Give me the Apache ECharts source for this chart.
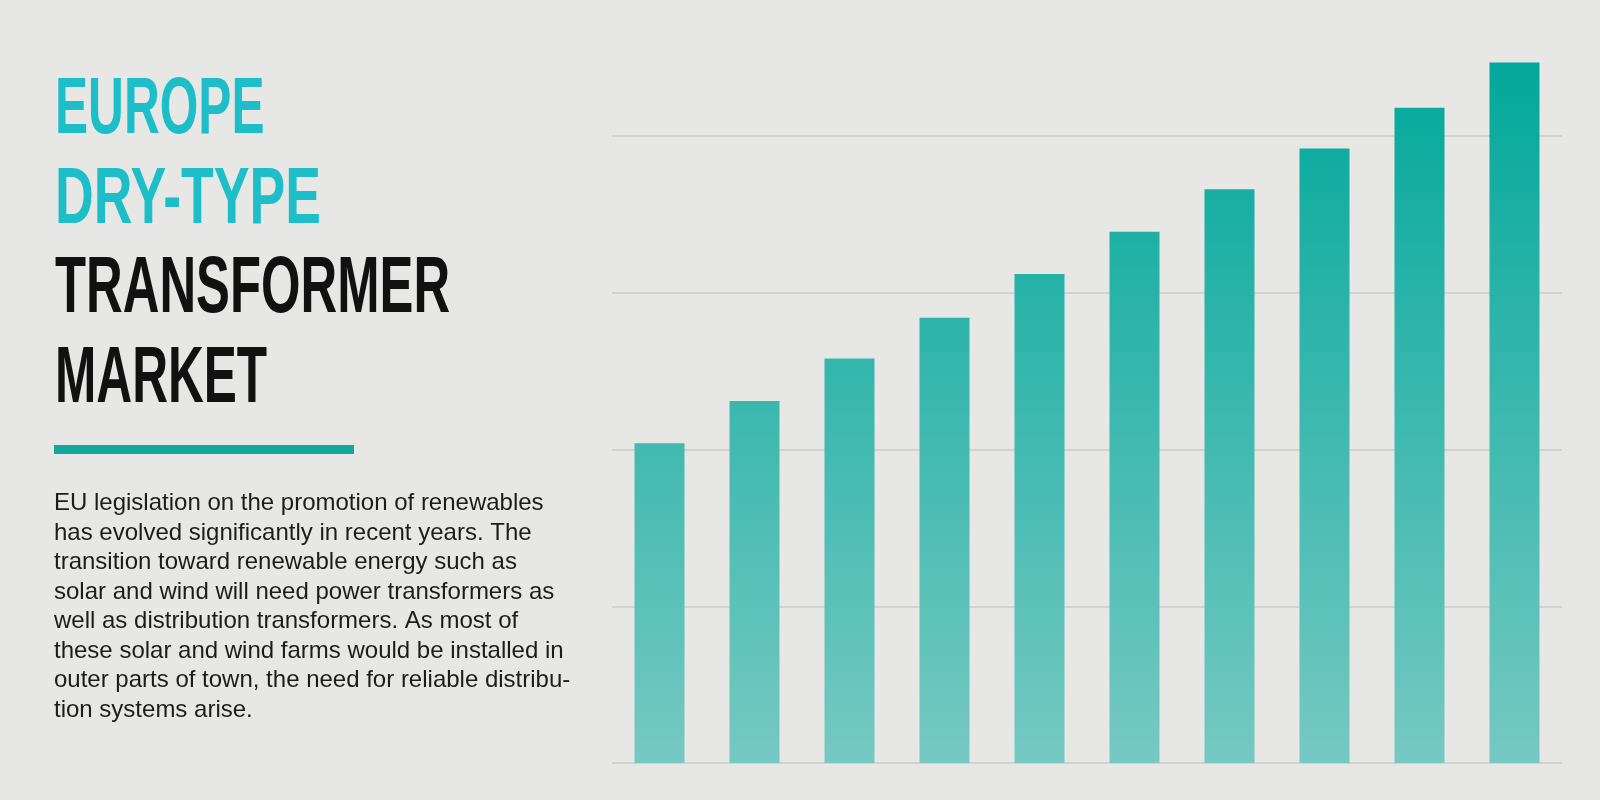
<!DOCTYPE html>
<html>
<head>
<meta charset="utf-8">
<title>Europe Dry-Type Transformer Market</title>
<script src="https://cdn.jsdelivr.net/npm/echarts@6/dist/echarts.min.js"></script>
<style>
  html, body { margin: 0; padding: 0; background: #e7e7e6; }
  #main { width: 1600px; height: 800px; }
</style>
</head>
<body>
<div id="main"></div>
<script>
// 数据
var categories = ["1", "2", "3", "4", "5", "6", "7", "8", "9", "10"];
var marketValues = [2.04, 2.31, 2.58, 2.84, 3.12, 3.39, 3.66, 3.92, 4.18, 4.47];
var yTicks = [0, 1, 2, 3, 4];

var titleLines = [
  { text: "EUROPE", color: "#1ebec9", scaleX: 0.62 },
  { text: "DRY-TYPE", color: "#1ebec9", scaleX: 0.67 },
  { text: "TRANSFORMER", color: "#111111", scaleX: 0.635 },
  { text: "MARKET", color: "#111111", scaleX: 0.62 }
];
var bodyText = [
  "EU legislation on the promotion of renewables",
  "has evolved significantly in recent years. The",
  "transition toward renewable energy such as",
  "solar and wind will need power transformers as",
  "well as distribution transformers. As most of",
  "these solar and wind farms would be installed in",
  "outer parts of town, the need for reliable distribu-",
  "tion systems arise."
];

var myChart = echarts.init(document.getElementById("main"));

// 左侧标题文字
var graphics = titleLines.map(function (line, i) {
  return {
    type: "text",
    x: 55,
    y: 111 + i * 89.5,
    scaleX: line.scaleX,
    style: {
      text: line.text,
      fill: line.color,
      font: "bold 80px 'Liberation Sans', Arial, sans-serif",
      verticalAlign: "middle"
    }
  };
});
// 下划线
graphics.push({
  type: "rect",
  shape: { x: 54, y: 445, width: 300, height: 9 },
  style: { fill: "#12a99d" }
});
// 正文段落
graphics.push({
  type: "text",
  x: 54,
  y: 489,
  style: {
    text: bodyText.join("\n"),
    fill: "#1c1c1c",
    font: "24px 'Liberation Sans', Arial, sans-serif",
    lineHeight: 29.5,
    verticalAlign: "top"
  }
});

var option = {
  backgroundColor: "#e7e7e6",
  animation: false,
  grid: {
    left: 612,
    right: 38,
    top: 42,
    bottom: 37
  },
  xAxis: {
    type: "category",
    data: categories,
    axisLine: { show: false },
    axisTick: { show: false },
    axisLabel: { show: false }
  },
  yAxis: {
    type: "value",
    min: yTicks[0],
    max: 4.6,
    interval: 1,
    axisLine: { show: false },
    axisTick: { show: false },
    axisLabel: { show: false },
    splitLine: {
      showMaxLine: false,
      lineStyle: { color: "#d2d2d2", width: 2 }
    }
  },
  series: [
    {
      name: "Market",
      type: "bar",
      barWidth: 50,
      data: marketValues,
      itemStyle: {
        // 全局渐变：同一高度颜色一致
        color: new echarts.graphic.LinearGradient(0, 62, 0, 763, [
          { offset: 0, color: "#02a89b" },
          { offset: 1, color: "#76c9c2" }
        ], true)
      }
    }
  ],
  graphic: graphics
};

myChart.setOption(option);
window.addEventListener("resize", function () {
  myChart.resize();
});
</script>
</body>
</html>
